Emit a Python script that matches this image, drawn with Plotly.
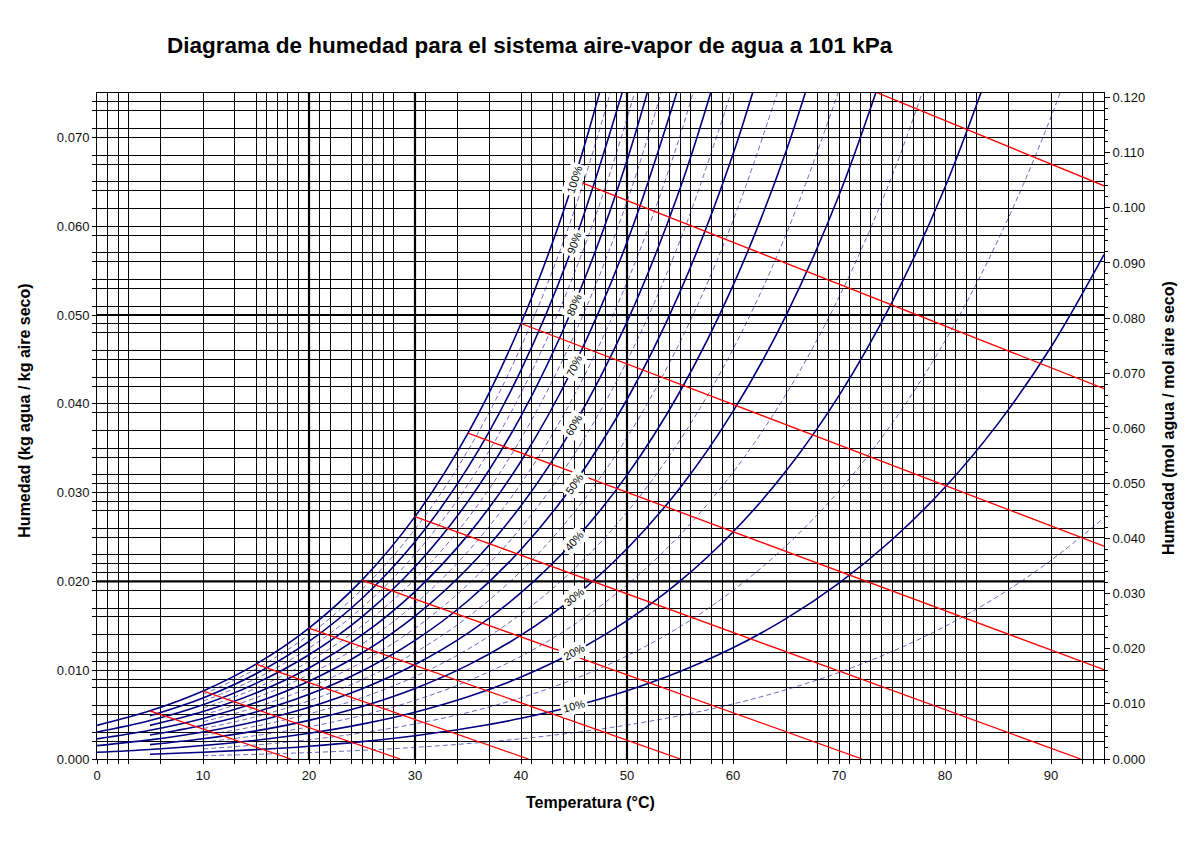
import math
import plotly.graph_objects as go

# ---------------- data ----------------
# saturation vapour pressure of water (kPa) at the chart temperatures (°C)
TEMP = [0, 5, 10, 15, 20, 25, 30, 35, 40, 45, 50, 55, 60, 65, 70, 75, 80, 85, 90, 95]
PSAT = [0.6113, 0.8726, 1.2281, 1.7056, 2.3388, 3.1690, 4.2455, 5.6267, 7.3814, 9.5898,
        12.344, 15.752, 19.932, 25.022, 31.176, 38.563, 47.373, 57.815, 70.117, 84.529]
P_TOTAL = 101.0  # kPa

# relative humidity curves (%) and the temperature where each one starts
RH_LEVELS = [5, 10, 15, 20, 25, 30, 35, 40, 45, 50, 55, 60, 65, 70, 75, 80, 85, 90, 95, 100]
RH_START = [10, 5, 10, 0, 10, 5, 10, 0, 10, 5, 10, 0, 10, 5, 10, 0, 10, 5, 10, 0]
RH_LABELED = [10, 20, 30, 40, 50, 60, 70, 80, 90, 100]
LABEL_TEMP = 45

# adiabatic saturation lines: saturation temperature (°C) and latent heat (kJ/kg)
AS_TEMP = [5, 10, 15, 20, 25, 30, 35, 40, 45, 50]
AS_LATENT = [2489.6, 2477.7, 2465.9, 2454.1, 2442.3, 2430.5, 2418.6, 2406.7, 2394.8, 2382.7]

# grid lines as drawn on the reference
GRID_T = [0, 1, 2, 3, 6, 10, 13, 15, 16, 17, 18, 19, 20, 21, 22, 24, 25, 26, 27, 28, 30, 31, 34, 37,
          40, 41, 43, 44, 45, 46, 47, 48, 49, 50, 51, 52, 53, 54, 55, 56, 58, 59, 60, 65, 68, 69,
          70, 71, 72, 73, 74, 75, 76, 77, 78, 79, 80, 81, 82, 83, 86, 90, 93, 94, 95]
GRID_H = [0.000, 0.002, 0.003, 0.005, 0.006, 0.008, 0.009, 0.010, 0.011, 0.012, 0.014, 0.016,
          0.017, 0.019, 0.020, 0.021, 0.022, 0.023, 0.025, 0.026, 0.028, 0.029, 0.030, 0.031,
          0.032, 0.034, 0.035, 0.037, 0.039, 0.040, 0.042, 0.043, 0.045, 0.046, 0.048, 0.049,
          0.050, 0.051, 0.053, 0.054, 0.056, 0.057, 0.059, 0.060, 0.062, 0.064, 0.065, 0.067,
          0.068, 0.070, 0.071, 0.073, 0.074]
BOLD_T = [20, 30, 50]
BOLD_H = [0.020, 0.050]
H_LABELS = [0.000, 0.010, 0.020, 0.030, 0.040, 0.050, 0.060, 0.070]
T_LABELS = [0, 10, 20, 30, 40, 50, 60, 70, 80, 90]
MOL_TICKS = [0.000, 0.010, 0.020, 0.030, 0.040, 0.050, 0.060, 0.070, 0.080, 0.090, 0.100, 0.110, 0.120]
MOL_RATIO = 29.0 / 18.0

X_MAX = 95
Y_MAX = 0.075

NAVY = "#000080"
FONT = "Liberation Sans, Arial, sans-serif"


def humidity(phi, ps):
    pw = phi * ps
    return 0.622 * pw / (P_TOTAL - pw)


fig = go.Figure()

# bold grid lines
for t in BOLD_T:
    fig.add_shape(type="line", x0=t, x1=t, y0=0, y1=Y_MAX, xref="x", yref="y",
                  line=dict(color="black", width=2.2), layer="below")
for h in BOLD_H:
    fig.add_shape(type="line", x0=0, x1=X_MAX, y0=h, y1=h, xref="x", yref="y",
                  line=dict(color="black", width=2.2), layer="below")

# relative humidity curves
for rh, t0 in zip(RH_LEVELS, RH_START):
    phi = rh / 100.0
    xs, ys = [], []
    for t, ps in zip(TEMP, PSAT):
        if t < t0:
            continue
        h = humidity(phi, ps)
        xs.append(t)
        ys.append(h)
        if h > Y_MAX:
            break
    solid = rh % 10 == 0
    fig.add_trace(go.Scatter(
        x=xs, y=ys, mode="lines", line_shape="spline",
        line=dict(color=NAVY if solid else "rgba(20,20,150,0.7)",
                  width=1.6 if solid else 0.9,
                  dash="solid" if solid else "5px,3px"),
        hoverinfo="skip", showlegend=False))

# adiabatic saturation lines (straight, slope = -humid heat / latent heat)
for ts, lam in zip(AS_TEMP, AS_LATENT):
    hs = humidity(1.0, PSAT[TEMP.index(ts)])
    cs = 1.005 + 1.88 * hs
    t_end = ts + hs * lam / cs
    h_end = 0.0
    if t_end > X_MAX:
        t_end = X_MAX
        h_end = hs - (X_MAX - ts) * cs / lam
    fig.add_trace(go.Scatter(
        x=[ts, t_end], y=[hs, h_end], mode="lines",
        line=dict(color="#ff0000", width=1.3),
        hoverinfo="skip", showlegend=False))

# invisible trace for the right axis
fig.add_trace(go.Scatter(x=[0], y=[0], yaxis="y2", mode="markers",
                         marker=dict(opacity=0), hoverinfo="skip", showlegend=False))

# curve labels
PX_PER_T = 1007 / X_MAX
PX_PER_H = 666 / Y_MAX
i45 = TEMP.index(LABEL_TEMP)
for rh in RH_LABELED:
    phi = rh / 100.0
    h = humidity(phi, PSAT[i45])
    slope = (humidity(phi, PSAT[i45 + 1]) - humidity(phi, PSAT[i45 - 1])) / (TEMP[i45 + 1] - TEMP[i45 - 1])
    ang = math.degrees(math.atan(slope * PX_PER_H / PX_PER_T))
    fig.add_annotation(x=LABEL_TEMP, y=h, xref="x", yref="y", text=f"{rh}%",
                       showarrow=False, textangle=-ang, bgcolor="white",
                       font=dict(family=FONT, size=11, color="black"),
                       borderpad=2)

fig.update_layout(
    width=1200, height=849,
    margin=dict(l=97, r=96, t=93, b=90),
    paper_bgcolor="white", plot_bgcolor="white",
    font=dict(family=FONT, size=13, color="black"),
    xaxis=dict(range=[0, X_MAX], tickvals=GRID_T,
               ticktext=[str(t) if t in T_LABELS else "" for t in GRID_T],
               ticks="outside", ticklen=4, tickcolor="black", tickwidth=1,
               showgrid=True, gridcolor="black", gridwidth=1,
               showline=True, linecolor="black", linewidth=1, mirror=True,
               zeroline=False, tickfont=dict(size=13, color="#111")),
    yaxis=dict(range=[0, Y_MAX], tickvals=GRID_H,
               ticktext=[f"{h:.3f}" if any(abs(h - v) < 1e-9 for v in H_LABELS) else "" for h in GRID_H],
               ticks="outside", ticklen=4, tickcolor="black", tickwidth=1,
               showgrid=True, gridcolor="black", gridwidth=1,
               showline=True, linecolor="black", linewidth=1, mirror=True,
               zeroline=False, tickfont=dict(size=13, color="#111")),
    yaxis2=dict(range=[0, Y_MAX * MOL_RATIO], overlaying="y", side="right",
                tickvals=MOL_TICKS, tickformat=".3f",
                ticks="outside", ticklen=5, tickcolor="black",
                minor=dict(dtick=0.002, ticks="outside", ticklen=3, tickcolor="black"),
                showgrid=False, zeroline=False, showline=True, linecolor="black",
                tickfont=dict(size=13, color="#111")),
)

fig.add_annotation(text="<b>Diagrama de humedad para el sistema aire-vapor de agua a 101 kPa</b>",
                   xref="paper", yref="paper", x=0.43, y=1.072, xanchor="center", yanchor="middle",
                   showarrow=False, font=dict(family=FONT, size=22.5, color="black"))
fig.add_annotation(text="<b>Temperatura (°C)</b>", xref="paper", yref="paper",
                   x=0.4896, y=-0.066, xanchor="center", yanchor="middle",
                   showarrow=False, font=dict(family=FONT, size=16))
fig.add_annotation(text="<b>Humedad (kg agua / kg aire seco)</b>", xref="paper", yref="paper",
                   x=-0.0715, y=0.523, xanchor="center", yanchor="middle", textangle=-90,
                   showarrow=False, font=dict(family=FONT, size=16))
fig.add_annotation(text="<b>Humedad (mol agua / mol aire seco)</b>", xref="paper", yref="paper",
                   x=1.0636, y=0.512, xanchor="center", yanchor="middle", textangle=-90,
                   showarrow=False, font=dict(family=FONT, size=16))

fig.write_html("out.html")
